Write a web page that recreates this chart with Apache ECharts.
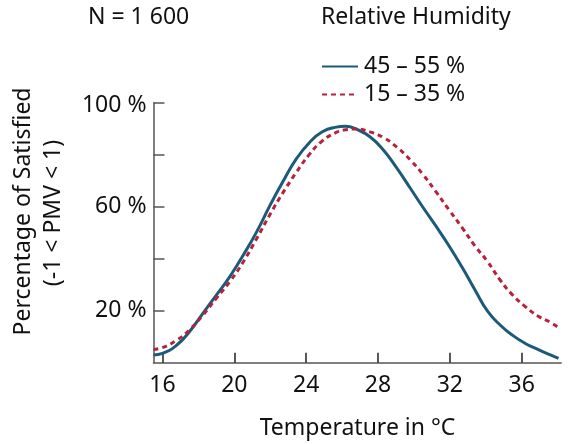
<!DOCTYPE html>
<html>
<head>
<meta charset="utf-8">
<script src="https://cdn.jsdelivr.net/npm/echarts@6/dist/echarts.min.js"></script>
<style>
  html, body { margin: 0; padding: 0; background: #fff; }
  #chart { width: 571px; height: 444px; }
</style>
</head>
<body>
<div id="chart"></div>
<script>
// ---- data ----
const seriesNames = ['45 – 55 %', '15 – 35 %'];
const xTickValues = [16, 20, 24, 28, 32, 36];
const yTickValues = [20, 40, 60, 80, 100];
const yLabelValues = [20, 60, 100];

const tempHigh = [15.5, 16, 16.8, 17.5, 18.25, 19.0, 19.75, 20.5, 21.25, 22.0, 22.7, 23.45, 24.2, 24.9, 25.6, 26.2, 26.8, 27.55, 28.3, 29.05, 29.8, 30.5, 31.2, 31.95, 32.7, 33.4, 34.1, 34.8, 35.5, 36.2, 36.9, 37.6, 38.05];
const satHigh  = [3.0, 3.6, 6.8, 11.9, 19.0, 26.0, 33.1, 41.4, 50.4, 60.7, 69.6, 78.4, 84.8, 88.8, 90.5, 90.9, 89.8, 86.9, 81.8, 74.8, 67.1, 59.8, 52.8, 45.0, 36.5, 28.0, 19.8, 14.5, 10.5, 7.4, 5.1, 3.0, 1.7];

const tempLow = [15.5, 16, 16.8, 17.5, 18.25, 19.0, 19.75, 20.5, 21.25, 22.0, 22.7, 23.45, 24.2, 24.9, 25.6, 26.2, 26.8, 27.55, 28.3, 29.05, 29.8, 30.5, 31.2, 31.95, 32.7, 33.4, 34.1, 34.8, 35.5, 36.2, 36.9, 37.6, 38.05];
const satLow  = [5.1, 5.8, 8.7, 12.6, 18.3, 24.8, 31.2, 38.8, 47.8, 57.2, 65.3, 73.2, 80.3, 85.3, 88.3, 89.6, 89.9, 88.8, 86.6, 82.9, 78.0, 72.4, 66.0, 58.8, 51.8, 44.9, 38.9, 31.8, 26.0, 21.6, 18.0, 15.5, 13.5];

const pairs = (xs, ys) => xs.map((x, i) => [x, ys[i]]);

const FONT = 'Noto Sans';
const TXT = '#111';
const AXIS = '#555';

const chart = echarts.init(document.getElementById('chart'), null, { renderer: 'canvas' });
chart.setOption({
  animation: false,
  backgroundColor: '#fff',
  textStyle: { fontFamily: FONT },
  grid: { left: 153.5, right: 9.8, top: 102.7, bottom: 81.3, containLabel: false },
  legend: {
    orient: 'vertical',
    left: 321,
    top: 55,
    padding: 0,
    itemWidth: 36,
    itemHeight: 14,
    itemGap: 5,
    data: seriesNames,
    itemStyle: { opacity: 0 },
    textStyle: { fontFamily: FONT, fontSize: 23, color: TXT, padding: [0, 0, 0, 1] }
  },
  xAxis: {
    type: 'value',
    min: 15.5,
    max: 38.2,
    axisLine: { lineStyle: { color: AXIS, width: 1.5 } },
    axisTick: { inside: true, length: 10, customValues: xTickValues, lineStyle: { color: '#222', width: 1.5 } },
    axisLabel: { customValues: xTickValues, fontFamily: FONT, fontSize: 23, color: TXT, margin: 11 },
    splitLine: { show: false }
  },
  yAxis: {
    type: 'value',
    min: 0,
    max: 100,
    interval: 20,
    axisLine: { show: true, lineStyle: { color: AXIS, width: 1.5 } },
    axisTick: { show: true, inside: true, length: 11, customValues: yTickValues, lineStyle: { color: AXIS, width: 1.5 } },
    axisLabel: {
      customValues: yLabelValues, fontFamily: FONT, fontSize: 23, color: TXT, margin: 7,
      formatter: v => (v === 100 ? '{top|' + v + ' %}' : v + ' %'),
      rich: { top: { fontFamily: FONT, fontSize: 23, color: TXT, padding: [6, 0, 0, 0] } }
    },
    splitLine: { show: false }
  },
  graphic: [
    { type: 'text', left: 88, top: 6, style: { text: 'N = 1 600', font: '23px "Noto Sans"', fill: TXT } },
    { type: 'text', left: 321, top: 6, style: { text: 'Relative Humidity', font: '23px "Noto Sans"', fill: TXT } },
    { type: 'text', x: 23, y: 211.5, rotation: Math.PI / 2, style: { text: 'Percentage of Satisfied', font: '23px "Noto Sans"', fill: TXT, align: 'center', verticalAlign: 'middle' } },
    { type: 'text', x: 53, y: 213, rotation: Math.PI / 2, style: { text: '(-1 < PMV < 1)', font: '23px "Noto Sans"', fill: TXT, align: 'center', verticalAlign: 'middle' } },
    { type: 'text', x: 357.5, y: 428, style: { text: 'Temperature in °C', font: '23px "Noto Sans"', fill: TXT, align: 'center', verticalAlign: 'middle' } }
  ],
  series: [
    {
      name: seriesNames[0],
      type: 'line',
      smooth: 0.5,
      symbol: 'none',
      data: pairs(tempHigh, satHigh),
      lineStyle: { color: '#1d5a7a', width: 3 },
      itemStyle: { color: '#1d5a7a' }
    },
    {
      name: seriesNames[1],
      type: 'line',
      smooth: 0.5,
      symbol: 'none',
      data: pairs(tempLow, satLow),
      lineStyle: { color: '#b5223c', width: 3, type: [5, 4] },
      itemStyle: { color: '#b5223c' }
    }
  ]
});
</script>
</body>
</html>
